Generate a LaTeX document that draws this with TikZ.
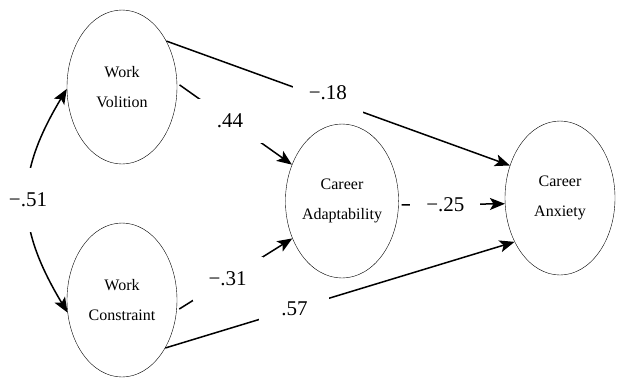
\documentclass[tikz,border=0pt]{standalone}
\usepackage{fontspec}
\setmainfont{Liberation Serif}
\usetikzlibrary{shapes.geometric,arrows.meta}

\begin{document}
\begin{tikzpicture}
	[x=1pt,y=-1pt,
	latent/.style={draw,ellipse,minimum width=110pt,minimum height=154pt,inner sep=0pt,align=center,font=\fontsize{16}{30}\selectfont},
	path/.style={line width=1.5pt,-{Stealth[length=15pt,width=12pt,inset=3.5pt]}},
	coef/.style={fill=white,minimum width=70pt,minimum height=44pt,inner sep=0pt,font=\fontsize{21}{24}\selectfont}]
	\useasboundingbox (0,0) rectangle (623,378);
	\node[latent] (wv) at (122,87) {Work\\Volition};
	\node[latent] (wc) at (122,300) {Work\\Constraint};
	\node[latent] (ca) at (342,201) {Career\\Adaptability};
	\node[latent] (canx) at (560,198) {Career\\Anxiety};
	% paths
	\draw[path] (wv.46) -- node[coef,pos=0.47] {\raisebox{14pt}{−.18}} (canx.147);
	\draw[path,shorten <=3pt] (wv.4) -- node[coef,pos=0.46] {.44} (ca.144);
	\draw[path,shorten <=3pt] (wc.-11) -- node[coef,pos=0.44] {−.31} (ca.217);
	\draw[path] (wc.-48) -- node[coef,pos=0.37] {\raisebox{-12pt}{.57}} (canx.224);
	\draw[path,shorten <=3pt] (ca.-4) -- node[coef,pos=0.44] {−.25} (canx.186);
	% covariance
	\draw[path,{Stealth[length=15pt,width=12pt,inset=3.5pt]}-{Stealth[length=15pt,width=12pt,inset=3.5pt]}]
		(wv.182) .. controls (15,175) and (15,225) .. node[coef,minimum height=64pt] {−.51} (wc.193);
\end{tikzpicture}
\end{document}
